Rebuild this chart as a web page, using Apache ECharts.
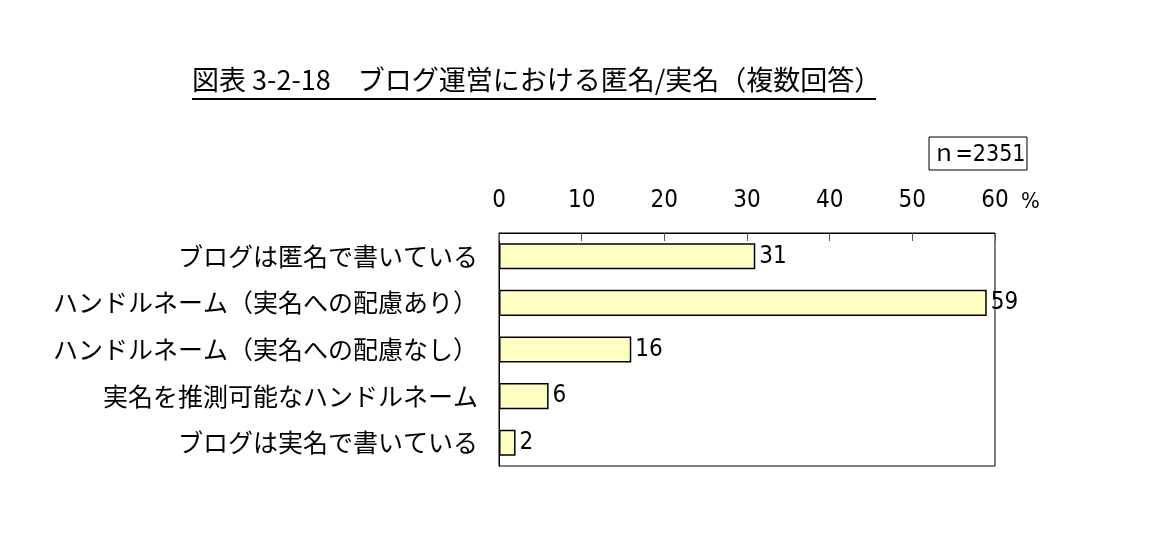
<!DOCTYPE html>
<html><head><meta charset="utf-8">
<script src="https://cdn.jsdelivr.net/npm/echarts@6/dist/echarts.min.js"></script>
<style>html,body{margin:0;padding:0;background:#fff}#c{width:1170px;height:543px}</style>
</head><body><div id="c"></div>
<script>
const categories = ['ブログは匿名で書いている','ハンドルネーム（実名への配慮あり）','ハンドルネーム（実名への配慮なし）','実名を推測可能なハンドルネーム','ブログは実名で書いている'];
const values = [31, 59, 16, 6, 2];
const titleText = '図表 3-2-18　ブログ運営における匿名/実名（複数回答）';
const nText = 'ｎ=2351';
const unitText = '%';

const FONT = '"Noto Sans CJK JP", "Noto Sans", sans-serif';
const NUMFONT = '"DejaVu Sans Condensed", "Liberation Sans Narrow", "Noto Sans CJK JP", sans-serif';
const chart = echarts.init(document.getElementById('c'));
chart.setOption({
  backgroundColor: '#fff',
  animation: false,
  grid: {left: 499, top: 233, width: 496, height: 233, show: true, borderColor: '#000', borderWidth: 1, backgroundColor: 'transparent'},
  xAxis: {
    type: 'value', position: 'top', min: 0, max: 60, interval: 10,
    axisLine: {show: true, lineStyle: {color: '#000', width: 1}},
    axisTick: {show: true, inside: true, length: 8, lineStyle: {color: '#555'}},
    splitLine: {show: false},
    axisLabel: {color: '#000', fontSize: 24, fontFamily: NUMFONT, margin: 20}
  },
  yAxis: {
    type: 'category', data: categories, inverse: true,
    axisLine: {show: true, lineStyle: {color: '#000'}},
    axisTick: {show: false},
    axisLabel: {color: '#000', fontSize: 25, fontFamily: FONT, margin: 21}
  },
  series: [{
    type: 'bar', data: values, barWidth: '56%',
    itemStyle: {color: '#FFFFC2', borderColor: '#000', borderWidth: 1.5},
    label: {show: true, position: 'right', distance: 4, color: '#000', fontSize: 24, fontFamily: NUMFONT, padding: [3, 0, 0, 0]}
  }],
  graphic: [
    {type: 'text', left: 192, top: 66, style: {text: titleText, fontSize: 27, fontFamily: FONT, fill: '#000'}},
    {type: 'line', shape: {x1: 192, y1: 99, x2: 876, y2: 99}, style: {stroke: '#000', lineWidth: 2}},
    {type: 'rect', shape: {x: 929, y: 137, width: 98, height: 33}, style: {fill: '#fff', stroke: '#000', lineWidth: 1}},
    {type: 'text', x: 979, y: 155, style: {text: nText, fontSize: 23, fontFamily: NUMFONT, fill: '#000', align: 'center', verticalAlign: 'middle'}},
    {type: 'text', x: 1021, y: 202, style: {text: unitText, fontSize: 22, fontFamily: NUMFONT, fill: '#000', align: 'left', verticalAlign: 'middle'}}
  ]
});
</script></body></html>
